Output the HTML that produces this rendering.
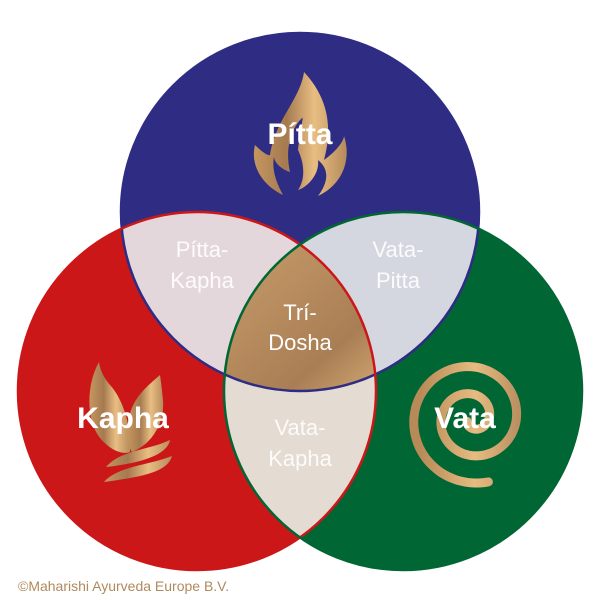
<!DOCTYPE html>
<html><head><meta charset="utf-8"><style>
html,body{margin:0;padding:0;background:#fff;}
svg{display:block}
text{font-family:"Liberation Sans",sans-serif;fill:#fff;text-anchor:middle;}
</style></head><body>
<svg width="600" height="600" viewBox="0 0 600 600" xmlns="http://www.w3.org/2000/svg">
<defs>
<linearGradient id="gold" x1="0.15" y1="0.1" x2="0.85" y2="0.9">
<stop offset="0" stop-color="#c09565"/><stop offset="0.3" stop-color="#a97e54"/><stop offset="0.55" stop-color="#ebc084"/><stop offset="0.8" stop-color="#ad8258"/><stop offset="1" stop-color="#c49a68"/>
</linearGradient>
<linearGradient id="goldh" x1="0" y1="0" x2="1" y2="0">
<stop offset="0" stop-color="#c4965f"/><stop offset="0.35" stop-color="#a57a50"/><stop offset="0.65" stop-color="#e9be82"/><stop offset="1" stop-color="#b58b5b"/>
</linearGradient>
<linearGradient id="goldv" gradientUnits="userSpaceOnUse" x1="420" y1="0" x2="530" y2="0">
<stop offset="0" stop-color="#b88a58"/><stop offset="0.5" stop-color="#e6bb80"/><stop offset="1" stop-color="#b0855a"/>
</linearGradient>
<clipPath id="cB"><circle cx="300" cy="212" r="179"/></clipPath>
<clipPath id="cR"><circle cx="197" cy="391" r="179"/></clipPath>
</defs>
<circle cx="300" cy="212" r="179" fill="#2e2d83"/>
<circle cx="197" cy="391" r="179" fill="#cc1719"/>
<circle cx="403" cy="391" r="179" fill="#006633"/>
<g clip-path="url(#cB)"><circle cx="197" cy="391" r="179" fill="#e4d7dc"/><circle cx="403" cy="391" r="179" fill="#d4d7df"/></g>
<g clip-path="url(#cR)"><circle cx="403" cy="391" r="179" fill="#e4dbd2"/></g>
<g clip-path="url(#cB)"><g clip-path="url(#cR)"><circle cx="403" cy="391" r="179" fill="url(#gold)"/></g></g>
<circle cx="300" cy="212" r="179" fill="none" stroke="#2e2d83" stroke-width="2.5"/>
<circle cx="197" cy="391" r="179" fill="none" stroke="#cc1719" stroke-width="2.5"/>
<circle cx="403" cy="391" r="179" fill="none" stroke="#006633" stroke-width="2.5"/>
<path d="M304 72 C330 100 332 130 324 160 C338 150 344 140 344 136 C352 160 342 185 318 196 C330 180 328 168 318 160 C320 175 306 188 298 190 C305 180 305 165 298 150 C300 132 304 115 302 118 C290 130 285 150 290 172 C278 168 270 158 276 150 C270 165 275 180 283 195 C262 185 250 165 255 145 C262 152 268 156 270 155 C275 120 300 100 304 72 Z" fill="url(#goldh)"/>
<path d="M99 362 C86 385 86 420 100 438 C110 450 122 455 130 452 C132 430 124 400 110 385 C104 378 100 370 99 362 Z" fill="url(#goldh)"/>
<path d="M160 375 C145 388 130 400 128 425 C127 440 130 450 132 452 C150 445 165 425 163 400 C162 390 161 382 160 375 Z" fill="url(#goldh)"/>
<path d="M106 467 C120 450 150 450 170 440 C168 452 150 462 106 467 Z M104 482 C118 466 150 465 172 456 C168 470 150 476 104 482 Z" fill="url(#goldh)"/>
<path id="sp" d="" fill="none" stroke="url(#goldv)" stroke-width="9" stroke-linecap="round"/>
<script>
(function(){var cx=472,cy=418,end=0.42*Math.PI,turns=2.2,start=end+turns*2*Math.PI,r0=6,r1=66,n=200,d="";
for(var i=0;i<=n;i++){var t=start+(end-start)*i/n,r=r0+(r1-r0)*i/n;d+=(i?"L":"M")+(cx+r*Math.cos(t)).toFixed(1)+" "+(cy+r*Math.sin(t)).toFixed(1);}
document.getElementById("sp").setAttribute("d",d);})();
</script>
<g font-weight="bold">
<text x="300" y="144" font-size="30">Pítta</text>
<text x="123" y="428" font-size="30">Kapha</text>
<text x="465" y="428" font-size="30">Vata</text>
</g>
<g font-size="22" opacity="0.9">
<text x="202" y="257">Pítta-</text><text x="202" y="288">Kapha</text>
<text x="398" y="257">Vata-</text><text x="398" y="288">Pitta</text>
<text x="300" y="435">Vata-</text><text x="300" y="466">Kapha</text>
</g>
<text x="300" y="320" font-size="22">Trí-</text>
<text x="300" y="350" font-size="22">Dosha</text>
<text x="18" y="591" font-size="14" style="text-anchor:start;fill:#b08a5e">©Maharishi Ayurveda Europe B.V.</text>
</svg>
</body></html>
